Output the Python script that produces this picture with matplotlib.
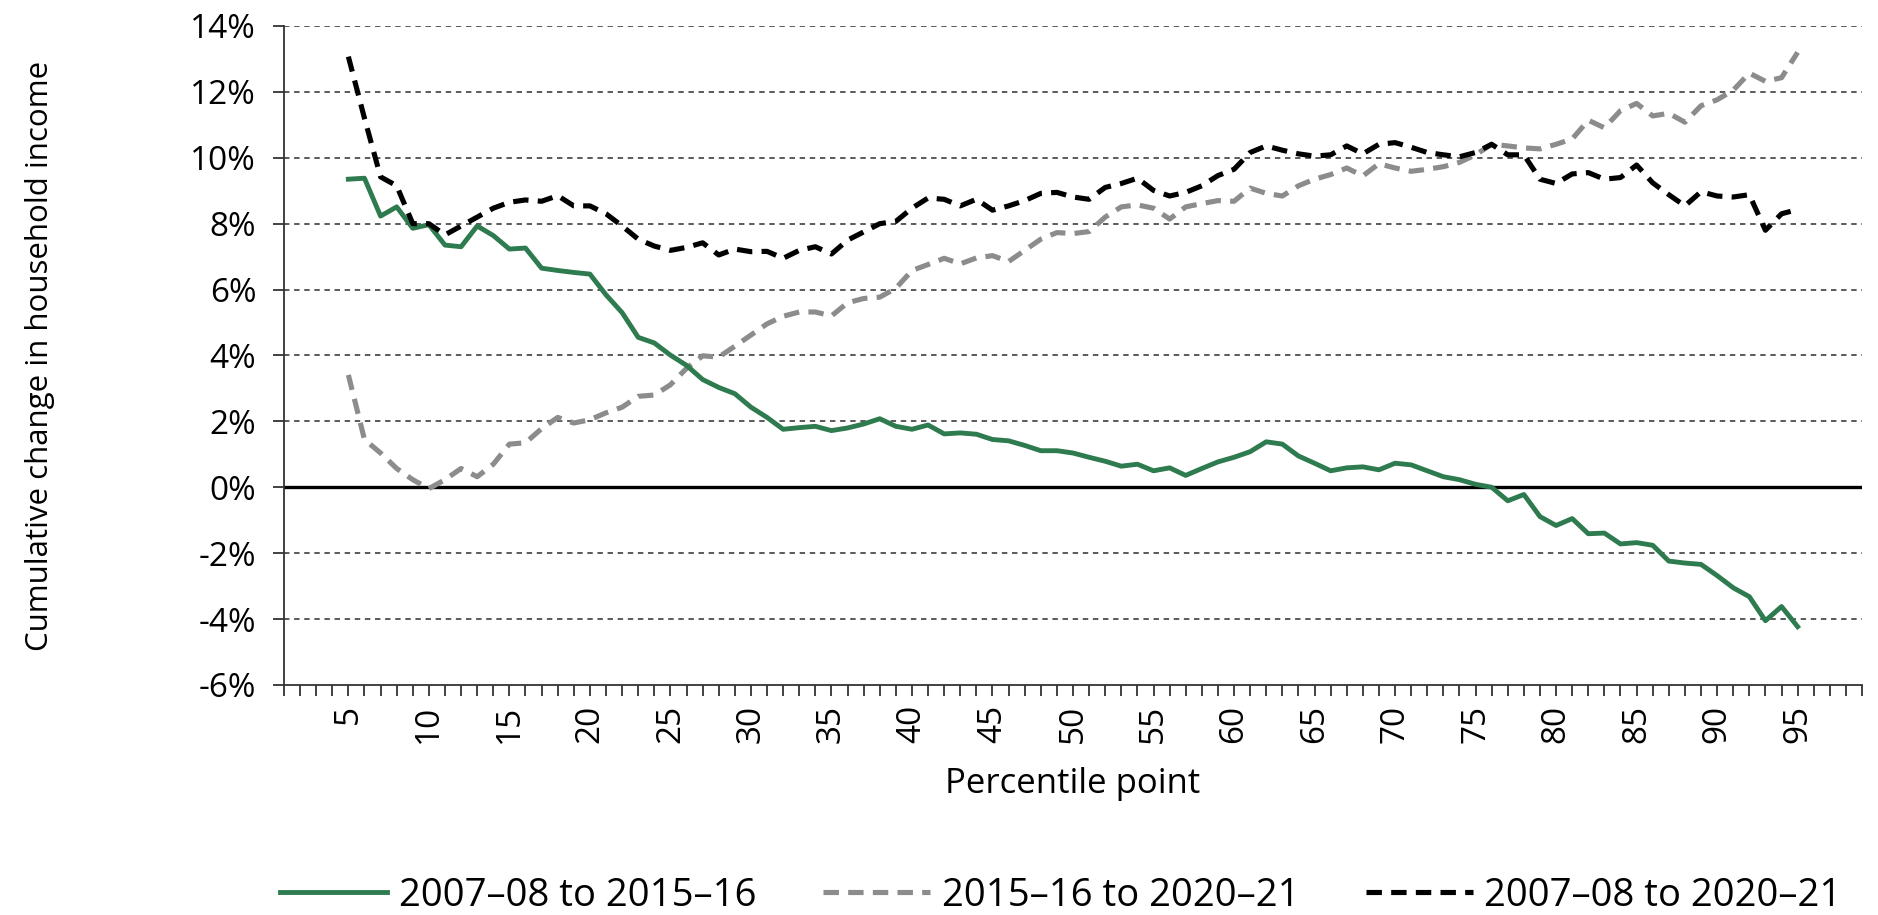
import numpy as np
import matplotlib.pyplot as plt
from matplotlib.ticker import FuncFormatter

plt.rcParams['font.family'] = ['Open Sans', 'DejaVu Sans']

# Percentile points shown on the x axis
percentiles = list(range(5, 96))

# Cumulative change in household income (%)
change_0708_1516 = [
    9.35, 9.38, 8.23, 8.51, 7.86, 7.97, 7.35, 7.30, 7.93, 7.64,
    7.23, 7.26, 6.65, 6.58, 6.52, 6.47, 5.84, 5.30, 4.55, 4.38,
    4.01, 3.70, 3.27, 3.03, 2.84, 2.43, 2.12, 1.76, 1.81, 1.85,
    1.72, 1.80, 1.92, 2.08, 1.85, 1.76, 1.89, 1.62, 1.65, 1.61,
    1.45, 1.41, 1.27, 1.11, 1.11, 1.04, 0.91, 0.79, 0.64, 0.70,
    0.50, 0.59, 0.36, 0.57, 0.77, 0.91, 1.08, 1.38, 1.31, 0.95,
    0.73, 0.50, 0.59, 0.62, 0.53, 0.73, 0.68, 0.50, 0.32, 0.23,
    0.09, 0.00, -0.41, -0.22, -0.89, -1.16, -0.95, -1.41, -1.39, -1.72,
    -1.68, -1.76, -2.24, -2.30, -2.34, -2.68, -3.05, -3.32, -4.05, -3.62,
    -4.23,
]
change_1516_2021 = [
    3.41, 1.45, 1.04, 0.57, 0.23, -0.04, 0.23, 0.57, 0.32, 0.70,
    1.31, 1.35, 1.78, 2.12, 1.95, 2.05, 2.26, 2.43, 2.76, 2.80,
    3.11, 3.61, 3.99, 3.95, 4.28, 4.62, 4.96, 5.19, 5.32, 5.32,
    5.20, 5.60, 5.73, 5.77, 6.04, 6.58, 6.76, 6.95, 6.78, 6.96,
    7.03, 6.85, 7.19, 7.53, 7.73, 7.70, 7.76, 8.20, 8.51, 8.57,
    8.47, 8.14, 8.51, 8.61, 8.70, 8.68, 9.08, 8.92, 8.84, 9.15,
    9.35, 9.49, 9.69, 9.45, 9.82, 9.69, 9.59, 9.65, 9.73, 9.86,
    10.09, 10.41, 10.36, 10.30, 10.27, 10.41, 10.57, 11.14, 10.91, 11.43,
    11.65, 11.27, 11.35, 11.08, 11.58, 11.76, 12.05, 12.57, 12.32, 12.43,
    13.20,
]
change_0708_2021 = [
    13.07, 11.20, 9.42, 9.15, 8.00, 8.00, 7.66, 7.93, 8.20, 8.47,
    8.65, 8.72, 8.68, 8.85, 8.54, 8.54, 8.30, 7.93, 7.53, 7.32,
    7.19, 7.28, 7.42, 7.05, 7.23, 7.15, 7.16, 6.95, 7.19, 7.30,
    7.08, 7.50, 7.75, 8.00, 8.07, 8.47, 8.78, 8.74, 8.54, 8.74,
    8.41, 8.54, 8.70, 8.92, 8.95, 8.81, 8.74, 9.10, 9.22, 9.38,
    9.01, 8.84, 8.95, 9.15, 9.46, 9.65, 10.16, 10.36, 10.23, 10.12,
    10.05, 10.09, 10.36, 10.12, 10.41, 10.46, 10.32, 10.16, 10.09, 10.03,
    10.16, 10.41, 10.09, 10.09, 9.35, 9.22, 9.51, 9.55, 9.35, 9.40,
    9.78, 9.24, 8.88, 8.54, 8.97, 8.84, 8.81, 8.88, 7.80, 8.30,
    8.43,
]

series_labels = ['2007\u201308 to 2015\u201316', '2015\u201316 to 2020\u201321',
                 '2007\u201308 to 2020\u201321']

fig = plt.figure(figsize=(18.78, 9.15), dpi=100)
ax = fig.add_axes([0.1512, 0.2514, 0.8403, 0.7202])

yticks = list(range(-6, 15, 2))

# dashed gridlines (not at 0 or at the bottom), solid zero line
for y in yticks:
    if y in (-6, 0):
        continue
    ax.axhline(y, color='#4d4d4d', lw=1.3, ls=(0, (3, 2.6)), zorder=1)
ax.axhline(0, color='black', lw=2.4, zorder=2)

ax.plot(percentiles, change_0708_1516, color='#2e7b4f', lw=3.5, label=series_labels[0], zorder=4)
ax.plot(percentiles, change_1516_2021, color='#8c8c8c', lw=3.7, ls=(0, (3, 1.8)),
        label=series_labels[1], zorder=3)
ax.plot(percentiles, change_0708_2021, color='black', lw=3.7, ls=(0, (3, 1.8)),
        label=series_labels[2], zorder=5)

ax.set_xlim(1, 99)
ax.set_ylim(-6, 14)
ax.set_yticks(yticks)
ax.yaxis.set_major_formatter(FuncFormatter(lambda v, p: f'{v:.0f}%'))
ax.set_xticks(range(5, 96, 5))
ax.set_xticks(range(1, 100), minor=True)
ax.tick_params(axis='x', which='both', length=8, width=1.3, color='#333333',
               labelsize=24, labelrotation=90, pad=6)
ax.tick_params(axis='y', length=8, width=1.3, color='#333333', labelsize=24, pad=12)

for side in ('top', 'right'):
    ax.spines[side].set_visible(False)
for side in ('left', 'bottom'):
    ax.spines[side].set_color('#333333')
    ax.spines[side].set_linewidth(1.3)

ax.set_xlabel('Percentile point', fontsize=25)
ax.xaxis.set_label_coords(0.5, -0.125)
ax.set_ylabel('Cumulative change in household income', fontsize=22.5)
ax.yaxis.set_label_coords(-0.145, 0.5)

fig.legend(loc='center', bbox_to_anchor=(0.565, 0.021), ncol=3, frameon=False,
           fontsize=27.5, handlelength=2.8, handletextpad=0.3, columnspacing=1.75,
           borderpad=0.1)

fig.savefig('out.png', dpi=100)
